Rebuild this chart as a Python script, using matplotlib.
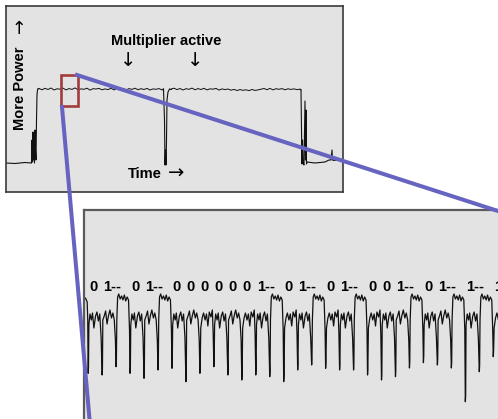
import numpy as np
import matplotlib
matplotlib.use("Agg")
import matplotlib.pyplot as plt
from matplotlib.lines import Line2D
from matplotlib.patches import Rectangle

W, H = 498, 419
plt.rcParams['font.family'] = ['Liberation Sans', 'DejaVu Sans']

# ---- overview trace (top panel): time vs power ----
start_t = [6, 15, 25, 31.5, 32, 32.5, 33, 33.5, 34, 34.5, 35, 35.5, 36, 36.5, 37, 37.5, 38]
start_p = [37, 36.5, 37.5, 37, 60, 38, 68, 40, 65, 37, 70, 50, 40, 80, 105, 110, 111]
plateau1_p = [111.5, 110.2, 111.7, 110.5, 112.0, 110.0, 111.2, 110.8, 111.9, 110.1,
              111.4, 110.6, 112.1, 110.3, 111.1, 110.7, 111.8, 109.9, 111.3, 111.0,
              111.6, 110.2, 111.1, 110.4, 111.7, 110.1, 111.5, 110.9, 111.2, 110.0,
              111.4, 110.6, 111.8, 110.3, 111.3, 110.5, 111.6, 110.0, 111.1, 110.7,
              111.4, 110.2]
dip_t = [163.5, 164.5, 165, 165.5, 166, 166.5, 167, 168, 169.5]
dip_p = [111, 80, 35, 50, 35, 60, 100, 108, 111]
plateau2_p = [111.0, 111.8, 110.4, 111.5, 110.0, 111.3, 110.7, 111.9, 110.2, 111.4,
              110.5, 111.7, 110.1, 111.2, 110.8, 111.6, 109.9, 111.1, 110.4, 111.0,
              109.8, 110.6, 109.5, 110.4, 109.7, 110.2, 109.4, 110.5, 109.6, 110.1,
              110.8, 111.5, 110.3, 111.6, 110.1, 111.3, 110.7, 111.4, 110.2, 111.2,
              110.6, 111.1, 110.4, 110.8]
tail_t = [301, 301.5, 302, 302.5, 303, 304, 305, 305.5, 306, 306.5, 307, 315, 320,
          325, 327, 329, 331, 332, 332.5, 334, 338, 343]
tail_p = [110, 70, 36, 60, 37, 35, 99, 40, 90, 36, 38, 37, 37.5, 38, 39, 40, 40, 50,
          40, 39.5, 40, 39.5]

# ---- zoomed trace (bottom panel): one cycle per square / multiply ----
bits = [0, 1, 0, 1, 0, 0, 0, 0, 0, 0, 1, 0, 1, 0, 1, 0, 0, 1, 0, 1, 1, 1]
dip_depth = [26.7, 25, 33.3, 26.7, 21.7, 30, 31.7, 18.3, 26.7, 33.3, 25, 20, 25,
             23.3, 18.3, 30, 35, 31.7, 30, 30, 25, 20, 23.3, 32, 37.3, 35, 32,
             -1.7, 28.3, 43.3, 30]
lead_t = [-0.35, -0.2, -0.08, -0.04]
lead_p = [100, 102, 98, 80]

sqA_t = [0.04, 0.12, 0.22, 0.30, 0.40, 0.52, 0.62, 0.72, 0.82, 0.92]
sqA_p = [75, 86, 80, 87, 72, 84, 88, 79, 86, 62]
sqB_t = [0.04, 0.14, 0.24, 0.34, 0.44, 0.55, 0.66, 0.76, 0.86, 0.94]
sqB_p = [80, 84, 89, 76, 84, 90, 82, 87, 80, 60]
sqC_t = [0.05, 0.15, 0.25, 0.36, 0.46, 0.56, 0.66, 0.78, 0.88, 0.94]
sqC_p = [72, 82, 87, 80, 86, 74, 88, 83, 90, 66]
mul_t = [0.04, 0.10, 0.18, 0.28, 0.38, 0.48, 0.58, 0.68, 0.78, 0.88, 0.95]
mul_p = [80, 103, 106, 101, 104, 100, 105, 99, 103, 100, 70]

kinds, label_at, labels = [], [], []
for b in bits:
    label_at.append(len(kinds))
    labels.append('0' if b == 0 else '1--')
    kinds += ['S'] if b == 0 else ['S', 'M']

zt, zp = list(lead_t), list(lead_p)
squares = [(sqA_t, sqA_p), (sqB_t, sqB_p), (sqC_t, sqC_p)]
for k, kind in enumerate(kinds):
    zt += [k - 0.012, k + 0.012]
    zp += [dip_depth[k], dip_depth[k] + 6]
    tt, pp = (mul_t, mul_p) if kind == 'M' else squares[k % 3]
    zt += [k + v for v in tt]
    zp += pp

fig = plt.figure(figsize=(W / 100, H / 100), dpi=100)


def px_axes(l, t, r, b):
    return fig.add_axes([l / W, 1 - b / H, (r - l) / W, (b - t) / H])


bg = '#e3e3e3'
ink = '#111111'
arrow_font = ['DejaVu Sans']

# top panel
ax = px_axes(6, 6, 343, 192)
ax.set_facecolor(bg)
ax.plot(start_t, start_p, color=ink, lw=0.8)
ax.plot(np.arange(39, 163, 3), plateau1_p, color=ink, lw=0.7)
ax.plot(dip_t, dip_p, color=ink, lw=0.8)
ax.plot(np.arange(171, 301, 3), plateau2_p, color=ink, lw=0.7)
ax.plot(tail_t, tail_p, color=ink, lw=0.8)
ax.plot([38, 39], [111, 111.5], color=ink, lw=0.7)
ax.plot([162, 163.5], [110.2, 111], color=ink, lw=0.7)
ax.plot([169.5, 171], [111, 111], color=ink, lw=0.7)
ax.plot([300, 301], [110.8, 110], color=ink, lw=0.7)
ax.set_xlim(6, 343)
ax.set_ylim(8, 194)
ax.set_xticks([])
ax.set_yticks([])
for s in ax.spines.values():
    s.set_color('#3a3a3a')
    s.set_linewidth(1.2)

ax.add_patch(Rectangle((61, 200 - 106.5), 16.5, 31, fill=False,
                       edgecolor='#a23b3b', lw=1.9, zorder=5))

ax.text(20, 200 - 88, 'More Power', rotation=90, ha='center', va='center',
        fontsize=10.5, fontweight='bold')
ax.text(20, 200 - 25, '\u2192', rotation=90, ha='center', va='center',
        fontsize=13, family=arrow_font)
ax.text(166.5, 200 - 41, 'Multiplier active', ha='center', va='center',
        fontsize=10.5, fontweight='bold')
ax.text(128, 200 - 61, '\u2193', ha='center', va='center', fontsize=14,
        family=arrow_font)
ax.text(195, 200 - 61, '\u2193', ha='center', va='center', fontsize=14,
        family=arrow_font)
ax.text(145, 200 - 174, 'Time', ha='center', va='center',
        fontsize=10.5, fontweight='bold')
ax.text(176, 200 - 173, '\u2192', ha='center', va='center', fontsize=14,
        family=arrow_font)

# bottom panel (extends past the figure edge)
period = 13.97
x0 = 88.3
bx = px_axes(84, 210, 560, 460)
bx.set_facecolor(bg)
bx.plot(zt, zp, color=ink, lw=0.9)
bx.set_xlim((84 - x0) / period, (560 - x0) / period)
bx.set_ylim(-60, 190)
bx.set_xticks([])
bx.set_yticks([])
for name, s in bx.spines.items():
    s.set_color('#5b5b5b')
    s.set_linewidth(1.6)
    s.set_visible(name in ('top', 'left'))
for k, lab in zip(label_at, labels):
    bx.text(k + 0.05, 113, lab, ha='left', va='center', fontsize=10.5,
            fontweight='bold')

# connector lines
blue = '#6664c0'
fig.add_artist(Line2D([77 / W, 498 / W], [1 - 75 / H, 1 - 211 / H],
                      color=blue, lw=2.9, zorder=10))
fig.add_artist(Line2D([62 / W, 89.5 / W], [1 - 107 / H, 1 - 419 / H],
                      color=blue, lw=2.9, zorder=10))

fig.savefig('out.png', dpi=100, facecolor='white')
